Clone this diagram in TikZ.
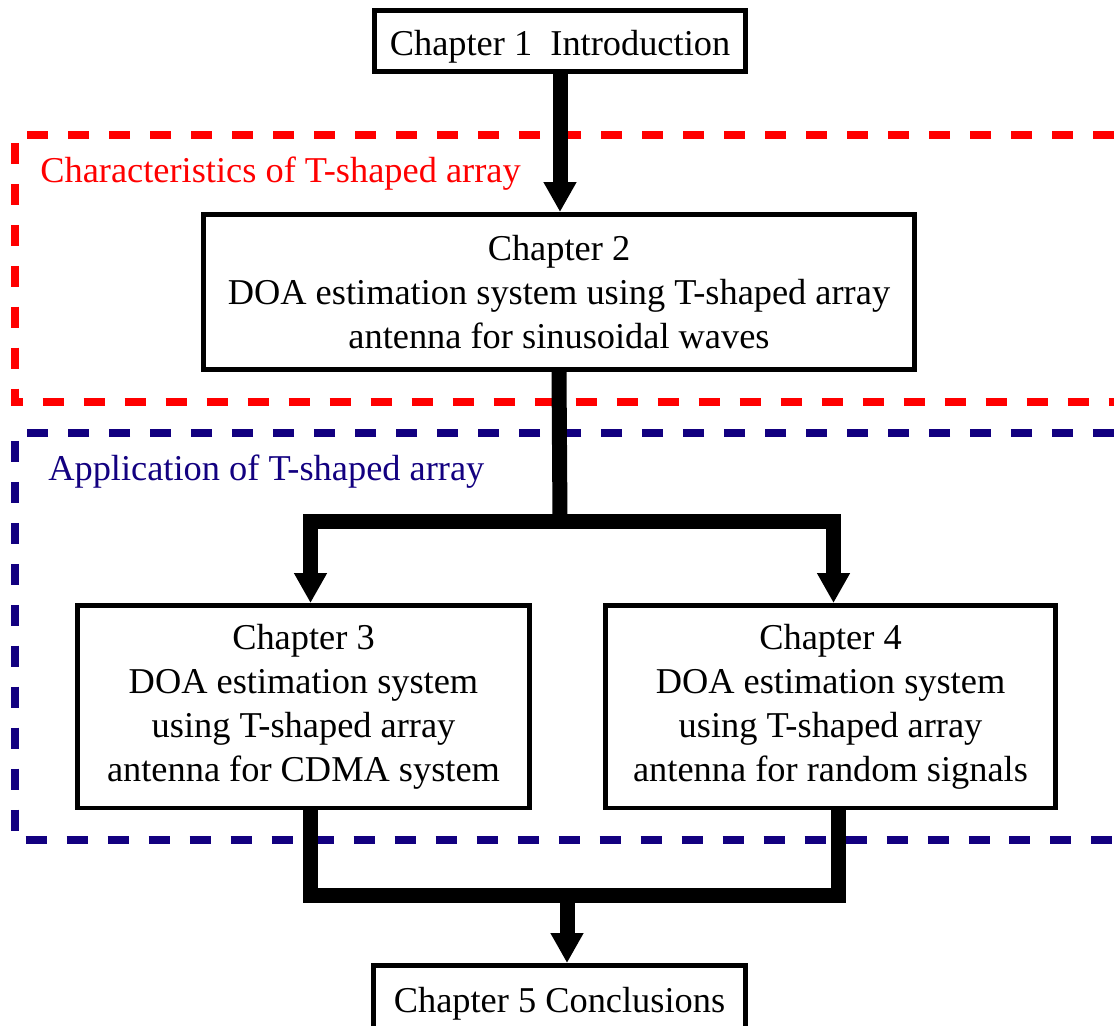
\documentclass[tikz,border=0pt]{standalone}
\usepackage{fontspec}
\setmainfont{Liberation Serif}
\usepackage{tikz}
\usetikzlibrary{arrows.meta,positioning,calc}
\definecolor{charred}{RGB}{255,0,0}
\definecolor{appblue}{RGB}{18,0,128}

\begin{document}
\begin{tikzpicture}[x=0.02cm, y=-0.02cm,
  >={Triangle[width=0.62cm,length=0.6cm]},
  chapbox/.style={draw=black, fill=white, line width=0.09cm, align=center, inner sep=0pt,
    font=\fontsize{20.7}{25}\selectfont},
  onelinebox/.style={chapbox, minimum height=1.23cm, text height=0.75cm, text depth=0.16cm},
  flow/.style={line width=0.3cm, line join=miter},
  region/.style={line width=0.15cm, dash pattern=on 0.42cm off 0.4cm},
  regionlabel/.style={anchor=base west, inner sep=0pt, font=\fontsize{20.7}{25}\selectfont}]
  \useasboundingbox (0,0) rectangle (1114,1025);

  \draw[region, draw=charred] (1114,135) -- (15,135) -- (15,402) -- (1114,402);
  \draw[region, draw=appblue] (1114,433) -- (15,433) -- (15,840) -- (1114,840);
  \node[regionlabel, text=charred] (charlbl) at (40,182) {Characteristics of T-shaped array};
  \node[regionlabel, text=appblue] (applbl) at (48,480) {Application of T-shaped array};

  \node[onelinebox, minimum width=7.43cm] (ch1) at (560,41)
    {Chapter 1~ Introduction};
  \node[chapbox, minimum width=14.23cm, minimum height=3.11cm] (ch2) at (559,292)
    {Chapter 2\\DOA estimation system using T-shaped array\\antenna for sinusoidal waves};
  \node[chapbox, minimum width=9.05cm, minimum height=4.05cm] (ch3) at (303.5,706.5)
    {Chapter 3\\DOA estimation system\\using T-shaped array\\antenna for CDMA system};
  \node[chapbox, minimum width=9.01cm, minimum height=4.05cm] (ch4) at (830.5,706.5)
    {Chapter 4\\DOA estimation system\\using T-shaped array\\antenna for random signals};
  \node[onelinebox, minimum width=7.45cm, minimum height=1.35cm, text height=0.69cm] (ch5)
    at (559.5,999) {Chapter 5 Conclusions};

  \coordinate (split) at (560,521);
  \coordinate (merge) at (567,895);

  \draw[flow, ->] (ch1.south) -- (ch1.south |- ch2.north);
  \draw[flow] (ch2.south) -- (split);
  \draw[flow, <->] ($(ch3.north)+(7,0)$) |- (split) -| ($(ch4.north)+(3,0)$);
  \draw[flow] ($(ch3.south)+(7,0)$) |- (merge) -| ($(ch4.south)+(7.5,0)$);
  \draw[flow, ->] (merge) -- (merge |- ch5.north);
\end{tikzpicture}
\end{document}
